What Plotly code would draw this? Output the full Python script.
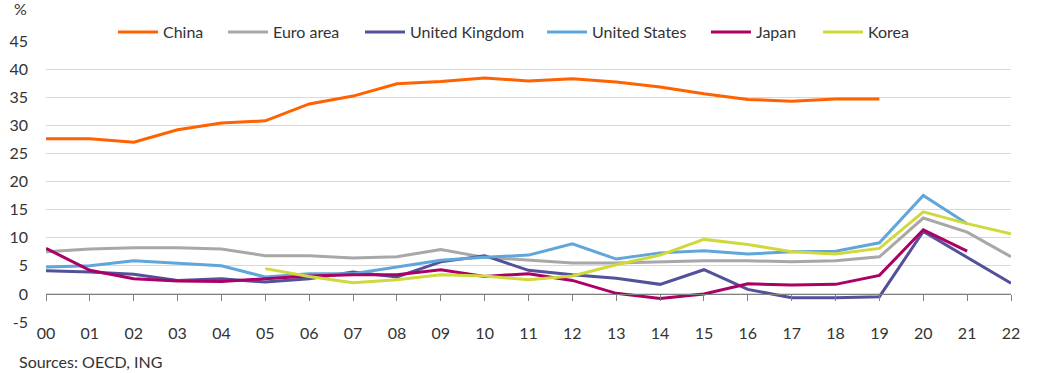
import plotly.graph_objects as go

years = ["00", "01", "02", "03", "04", "05", "06", "07", "08", "09", "10", "11",
         "12", "13", "14", "15", "16", "17", "18", "19", "20", "21", "22"]

china = [27.6, 27.6, 27.0, 29.2, 30.4, 30.8, 33.8, 35.2, 37.4, 37.8, 38.4, 37.9,
         38.3, 37.7, 36.8, 35.6, 34.6, 34.3, 34.7, 34.7, None, None, None]
euro_area = [7.5, 8.0, 8.2, 8.2, 8.0, 6.8, 6.8, 6.4, 6.6, 7.9, 6.5, 6.0,
             5.5, 5.5, 5.7, 5.9, 5.9, 5.7, 5.9, 6.6, 13.5, 11.0, 6.6]
united_kingdom = [4.1, 3.9, 3.5, 2.4, 2.7, 2.1, 2.7, 3.9, 3.0, 5.7, 6.8, 4.2,
                  3.4, 2.8, 1.7, 4.3, 0.8, -0.7, -0.7, -0.5, 11.1, 6.5, 1.9]
united_states = [4.8, 5.0, 5.9, 5.5, 5.0, 3.0, 3.6, 3.6, 4.8, 6.0, 6.5, 6.9,
                 8.9, 6.2, 7.3, 7.7, 7.1, 7.5, 7.6, 9.1, 17.5, 12.5, None]
japan = [8.1, 4.2, 2.7, 2.3, 2.2, 2.7, 3.2, 3.4, 3.4, 4.3, 3.1, 3.6,
         2.4, 0.1, -0.8, 0.0, 1.8, 1.6, 1.7, 3.3, 11.4, 7.6, None]
korea = [None, None, None, None, None, 4.5, 3.1, 2.0, 2.5, 3.4, 3.2, 2.5,
         3.2, 5.2, 6.9, 9.7, 8.8, 7.5, 7.1, 8.1, 14.6, 12.5, 10.7]

series = [
    ("China", china, "#FF6200"),
    ("Euro area", euro_area, "#A8A8A8"),
    ("United Kingdom", united_kingdom, "#525199"),
    ("United States", united_states, "#60A6DA"),
    ("Japan", japan, "#AB0066"),
    ("Korea", korea, "#D0D93C"),
]

y_ticks = [-5, 0, 5, 10, 15, 20, 25, 30, 35, 40, 45]
y_tick_text = ["-5", "0", "5", "10", "15", "20", "25", "30", "35", "40", "45"]

# legend anchor positions (paper fraction) for each entry
legend_x = [0.0694, 0.1834, 0.3254, 0.5140, 0.6839, 0.8000]

FONT = "Lato"
TXT = "#333333"
FS = 16

fig = go.Figure()
xs = list(range(len(years)))
legend_layout = {}
for i, (name, vals, col) in enumerate(series):
    lg = "legend" if i == 0 else f"legend{i + 1}"
    fig.add_trace(go.Scatter(x=xs, y=vals, name=name, mode="lines",
                             line=dict(color=col, width=3), connectgaps=False,
                             legend=lg))
    legend_layout[lg] = dict(orientation="h", x=legend_x[i], y=1.032,
                             xanchor="left", yanchor="middle",
                             font=dict(family=FONT, size=FS, color=TXT),
                             itemwidth=40, bgcolor="rgba(0,0,0,0)")

# invisible trace for the axis drawn at zero
fig.add_trace(go.Scatter(x=[0, 22], y=[0, 0], xaxis="x2", mode="lines",
                         line=dict(width=0), showlegend=False, hoverinfo="skip"))

fig.update_layout(
    width=1051, height=373,
    margin=dict(l=46, r=40, t=41, b=51, autoexpand=False),
    paper_bgcolor="white", plot_bgcolor="white",
    font=dict(family=FONT, size=FS, color=TXT),
    xaxis=dict(range=[0, 22], tickmode="array", tickvals=xs, ticktext=years,
               showgrid=False, zeroline=False, showline=False, ticks="",
               ticklabelstandoff=0,
               tickfont=dict(family=FONT, size=FS, color=TXT)),
    xaxis2=dict(range=[0, 22], overlaying="x", anchor="free", position=0.1,
                tickmode="array", tickvals=xs, showticklabels=False,
                ticks="outside", ticklen=6, tickcolor="#808080", tickwidth=1,
                showline=True, linecolor="#808080", linewidth=1, showgrid=False,
                zeroline=False),
    yaxis=dict(range=[-5, 45], tickmode="array", tickvals=y_ticks,
               ticktext=y_tick_text,
               showgrid=True, gridcolor="#D9D9D9", gridwidth=1,
               zeroline=False, showline=False, ticks="",
               ticklabelstandoff=17,
               tickfont=dict(family=FONT, size=FS, color=TXT)),
    showlegend=True,
    **legend_layout,
)

fig.add_annotation(text="%", xref="paper", yref="paper", x=-0.0352, y=1.115,
                   showarrow=False, xanchor="left", yanchor="middle",
                   font=dict(family=FONT, size=FS, color=TXT))
fig.add_annotation(text="Sources: OECD, ING", xref="paper", yref="paper",
                   x=-0.030, y=-0.139, showarrow=False, xanchor="left",
                   yanchor="middle", font=dict(family=FONT, size=FS, color=TXT))

fig.write_html("out.html",
               config={"displayModeBar": False},
               post_script="document.body.style.margin='0';"
                           "document.body.style.overflow='hidden';")
